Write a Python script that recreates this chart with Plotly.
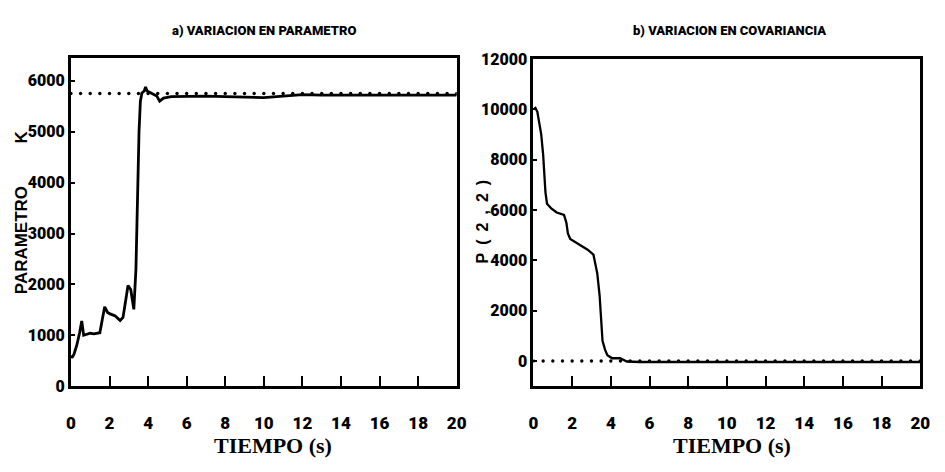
import plotly.graph_objects as go

# --- a) parameter estimate K(t)
t_k = [0, 0.05, 0.15, 0.3, 0.45, 0.56, 0.66, 0.8, 1.0, 1.2, 1.5, 1.62, 1.75, 1.9,
       2.03, 2.3, 2.55, 2.7, 2.85, 2.96, 3.1, 3.26, 3.37, 3.42, 3.46, 3.53, 3.6,
       3.68, 3.8, 3.87, 3.95, 4.1, 4.3, 4.45, 4.6, 4.8, 5.2, 6, 7, 8, 9, 10, 11,
       12, 13, 14, 16, 18, 20]
k_est = [600, 560, 620, 800, 1050, 1280, 1000, 1020, 1040, 1030, 1050, 1300, 1560,
         1450, 1420, 1380, 1290, 1350, 1700, 1980, 1900, 1510, 2300, 3200, 4000,
         5000, 5600, 5760, 5800, 5880, 5800, 5770, 5740, 5700, 5600, 5660, 5690,
         5700, 5700, 5690, 5680, 5670, 5700, 5730, 5720, 5720, 5720, 5720, 5720]
k_ref = 5750

# --- b) covariance element P(2,2)
t_p = [0, 0.1, 0.2, 0.3, 0.4, 0.5, 0.56, 0.62, 0.7, 0.92, 1.2, 1.42, 1.58, 1.7,
       1.78, 1.9, 2.1, 2.44, 2.8, 3.1, 3.2, 3.3, 3.42, 3.5, 3.57, 3.7, 3.82, 4.07,
       4.3, 4.48, 4.83, 5.5, 7, 10, 14, 20]
p22 = [10000, 10050, 9900, 9500, 9000, 8200, 7470, 6700, 6250, 6060, 5900, 5830,
       5800, 5500, 5070, 4850, 4750, 4610, 4420, 4230, 3900, 3470, 2600, 1750, 800,
       450, 230, 110, 120, 110, -20, -40, -40, -40, -40, -40]
p_ref = 0

# reference markers every 0.5 s
t_dots = [i * 0.5 for i in range(41)]

x_ticks = list(range(0, 21, 2))
k_ticks = [0, 1000, 2000, 3000, 4000, 5000, 6000]
p_ticks = [0, 2000, 4000, 6000, 8000, 10000, 12000]

W, H = 945, 472
def px(x):
    return x / W
def py(y):
    return 1 - y / H
def labels(vals):
    return [str(v) for v in vals]

fig = go.Figure()
fig.add_trace(go.Scatter(x=t_dots, y=[k_ref] * len(t_dots), mode="markers",
                         marker=dict(color="black", size=3.4), xaxis="x", yaxis="y"))
fig.add_trace(go.Scatter(x=t_k, y=k_est, mode="lines",
                         line=dict(color="black", width=2.8), xaxis="x", yaxis="y"))
fig.add_trace(go.Scatter(x=t_dots, y=[p_ref] * len(t_dots), mode="markers",
                         marker=dict(color="black", size=3.4), xaxis="x2", yaxis="y2"))
fig.add_trace(go.Scatter(x=t_p, y=p22, mode="lines",
                         line=dict(color="black", width=2.3), xaxis="x2", yaxis="y2"))

sans = "Liberation Sans, Arial, sans-serif"
tick_family = "Roboto, " + sans
ax_common = dict(showline=True, linecolor="black", linewidth=3, mirror=True,
                 showgrid=False, zeroline=False, ticks="inside", tickcolor="black",
                 tickwidth=2)
x_common = dict(range=[0, 20], tickvals=x_ticks, ticktext=labels(x_ticks),
                ticklen=10, ticklabelstandoff=19,
                tickfont=dict(family=tick_family, size=17, color="black", weight=900),
                **ax_common)
y_font = dict(family=tick_family, size=16, color="black", weight=900)

fig.update_layout(
    width=W, height=H, margin=dict(l=0, r=0, t=0, b=0),
    paper_bgcolor="white", plot_bgcolor="white", showlegend=False,
    xaxis=dict(domain=[px(67), px(459)], anchor="y", **x_common),
    yaxis=dict(domain=[py(393), py(51)], range=[0, 6450], tickvals=k_ticks,
               ticktext=labels(k_ticks), ticklen=4, tickfont=y_font, anchor="x",
               **ax_common),
    xaxis2=dict(domain=[px(537), px(930)], anchor="y2", **x_common),
    yaxis2=dict(domain=[py(393), py(52)], range=[-1000, 12000], tickvals=p_ticks,
                ticktext=labels(p_ticks), ticklen=4, tickfont=y_font, anchor="x2",
                **ax_common),
)

title_font = dict(family=tick_family, size=13, color="black", weight=900)
xt_font = dict(family="Liberation Serif, serif", size=22, color="black", weight="bold")
yt_font = dict(family=sans, size=17, color="black", weight="bold")

notes = [
    dict(text="a) VARIACION EN PARAMETRO", x=px(263), y=py(22), font=title_font),
    dict(text="b) VARIACION EN COVARIANCIA", x=px(736), y=py(22), font=title_font),
    dict(text="TIEMPO (s)", x=px(272), y=py(455), font=xt_font),
    dict(text="TIEMPO (s)", x=px(739), y=py(455), font=xt_font),
    dict(text="PARAMETRO" + "\u2003\u2003\u2002" + "K", x=px(17), y=py(212),
         font=yt_font, textangle=-90),
    dict(text="\u2002".join("P(2,2)"), x=px(485), y=py(221),
         font=dict(family=sans, size=16, color="black", weight="bold"), textangle=-90),
]
for n in notes:
    fig.add_annotation(xref="paper", yref="paper", showarrow=False,
                       xanchor="center", yanchor="middle", **n)

fig.write_html("out.html")
